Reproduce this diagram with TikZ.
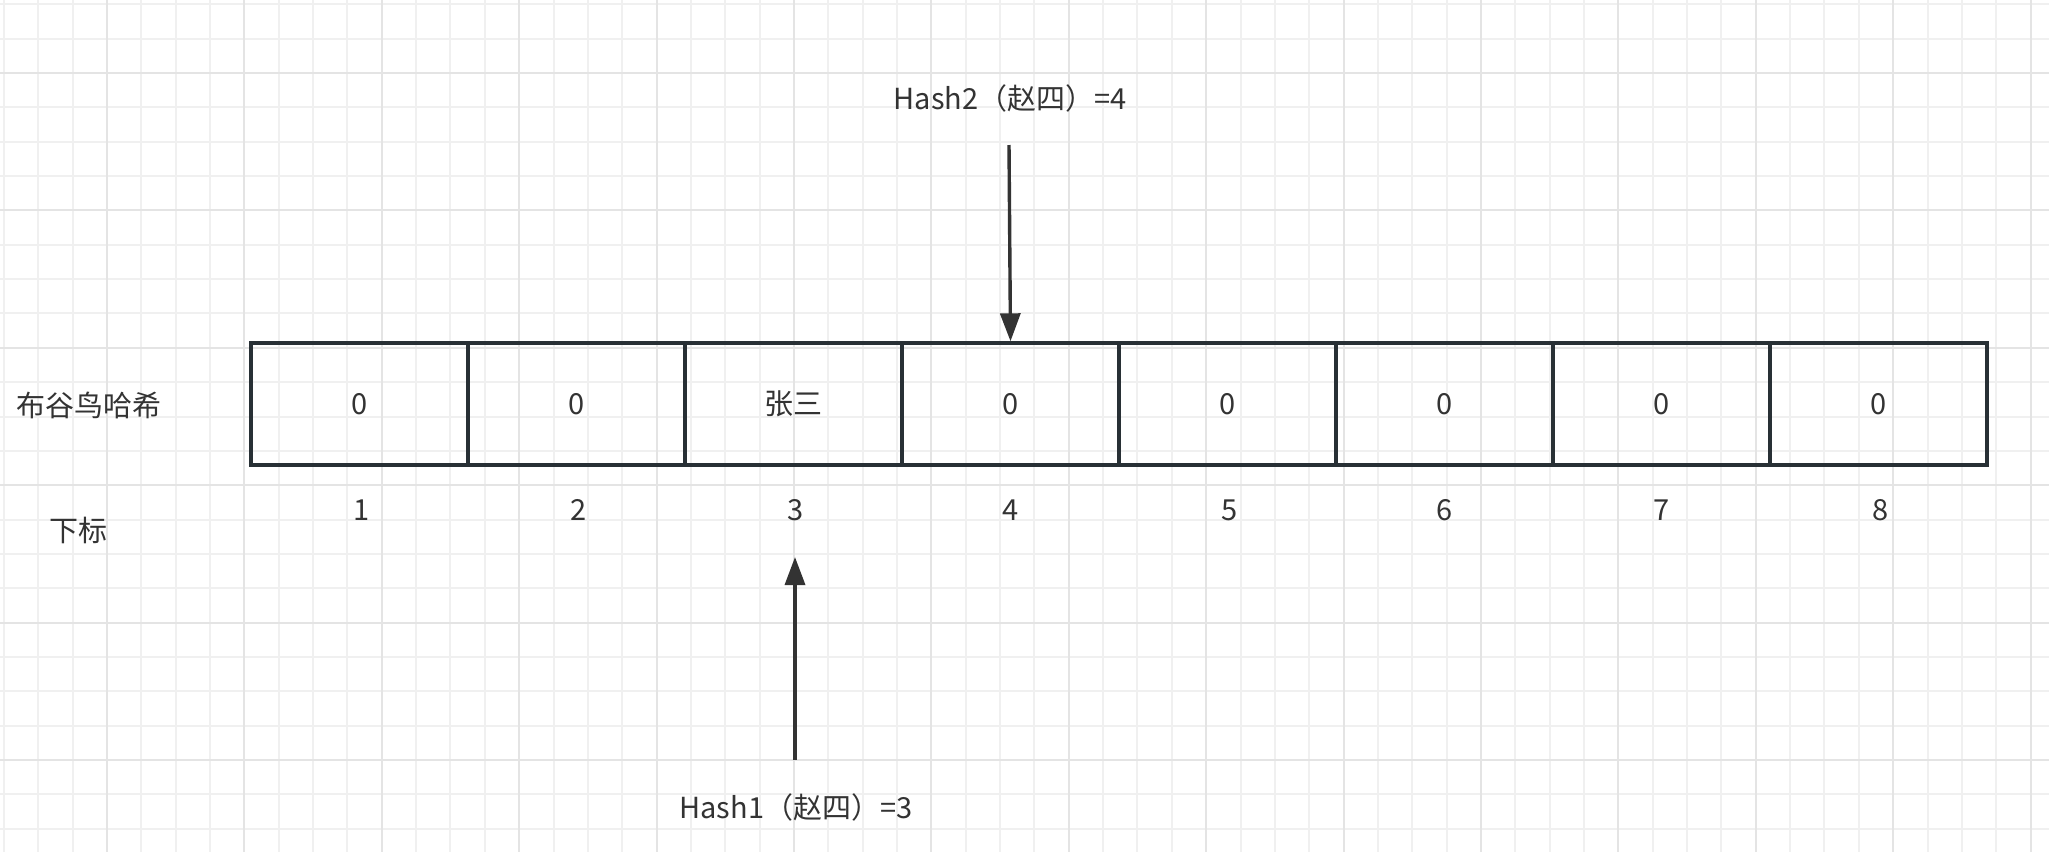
\documentclass[tikz,border=0pt]{standalone}
\usepackage{fontspec}
\setmainfont{Noto Sans CJK SC}
\usetikzlibrary{arrows.meta}
\definecolor{gridminor}{HTML}{F0F0F0}
\definecolor{gridmajor}{HTML}{E4E4E4}
\definecolor{boxline}{HTML}{283035}
\definecolor{txt}{HTML}{333333}
\tikzset{
  cell/.style={draw=boxline, line width=1.7pt, minimum width=108.5pt, minimum height=61pt, inner sep=0pt, text=txt, font=\fontsize{14.5pt}{17pt}\selectfont},
  lbl/.style={inner sep=0pt, text=txt, font=\fontsize{14.5pt}{17pt}\selectfont},
  arr/.style={draw=txt, line width=1.7pt, -{Triangle[length=14pt,width=10pt]}},
}
\begin{document}
\begin{tikzpicture}[x=0.5pt,y=-0.5pt]
\useasboundingbox (0,0) rectangle (2049,852);
\fill[white] (0,0) rectangle (2049,852);
% grid
\foreach \k in {0,...,59}{
  \pgfmathsetmacro{\gx}{3.9+34.35*\k}
  \draw[gridminor, line width=1pt] (\gx,0) -- (\gx,852);
}
\foreach \k in {0,...,24}{
  \pgfmathsetmacro{\gy}{4.3+34.35*\k}
  \draw[gridminor, line width=1pt] (0,\gy) -- (2049,\gy);
}
\foreach \k in {0,...,14}{
  \pgfmathsetmacro{\gx}{107+137.4*\k}
  \draw[gridmajor, line width=1pt] (\gx,0) -- (\gx,852);
}
\foreach \k in {0,...,6}{
  \pgfmathsetmacro{\gy}{73+137.4*\k}
  \draw[gridmajor, line width=1pt] (0,\gy) -- (2049,\gy);
}
% cells
\node[cell] (c1) at (359.5,404) {0};
\node[cell] (c2) at (576.5,404) {0};
\node[cell] (c3) at (793.5,404) {张三};
\node[cell] (c4) at (1010.5,404) {0};
\node[cell] (c5) at (1227.5,404) {0};
\node[cell] (c6) at (1444.5,404) {0};
\node[cell] (c7) at (1661.5,404) {0};
\node[cell] (c8) at (1878.5,404) {0};
% index labels
\node[lbl] (i1) at (362,510) {1};
\node[lbl] (i2) at (579,510) {2};
\node[lbl] (i3) at (796,510) {3};
\node[lbl] (i4) at (1011,510) {4};
\node[lbl] (i5) at (1230,510) {5};
\node[lbl] (i6) at (1445,510) {6};
\node[lbl] (i7) at (1662,510) {7};
\node[lbl] (i8) at (1881,510) {8};
% left labels
\node[lbl] (name) at (89.5,405) {布谷鸟哈希};
\node[lbl] (idx) at (78,530) {下标};
% hash labels
\node[lbl] (h2) at (1010,98) {Hash2（赵四）=4};
\node[lbl] (h1) at (796,807) {Hash1（赵四）=3};
\coordinate (h2s) at (1009,145);
\coordinate (h1s) at (795,760);
\coordinate (h1e) at (795,557);
\draw[arr] (h2s) -- (c4.north);
\draw[arr] (h1s) -- (h1e);
\end{tikzpicture}
\end{document}
